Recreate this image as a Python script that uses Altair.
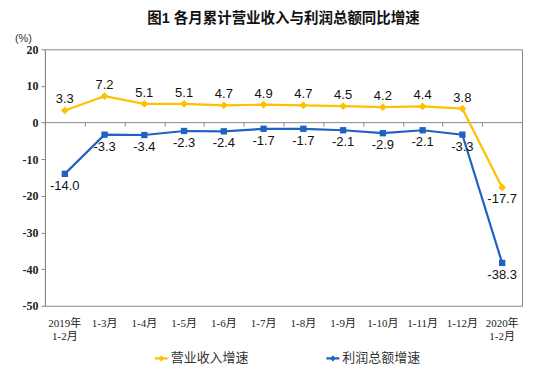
import altair as alt
import pandas as pd

categories = ["2019年\n1-2月", "1-3月", "1-4月", "1-5月", "1-6月", "1-7月", "1-8月",
              "1-9月", "1-10月", "1-11月", "1-12月", "2020年\n1-2月"]
revenue = [3.3, 7.2, 5.1, 5.1, 4.7, 4.9, 4.7, 4.5, 4.2, 4.4, 3.8, -17.7]
profit = [-14.0, -3.3, -3.4, -2.3, -2.4, -1.7, -1.7, -2.1, -2.9, -2.1, -3.3, -38.3]
series_names = ["营业收入增速", "利润总额增速"]
colors = ["#FFC000", "#1F62C2"]

rows = []
for i, c in enumerate(categories):
    rows.append({"cat": c, "series": series_names[0], "value": revenue[i], "order": i})
    rows.append({"cat": c, "series": series_names[1], "value": profit[i], "order": i})
df = pd.DataFrame(rows)

serif = "Liberation Serif, Noto Sans CJK SC"
sans = "Liberation Sans, Noto Sans CJK SC"

xscale = alt.Scale(type="band", domain=categories, paddingInner=0, paddingOuter=0)
yscale = alt.Scale(domain=[-50, 20])
cscale = alt.Scale(domain=series_names, range=colors)

x_lab = alt.X("cat:N", scale=xscale, sort=categories,
              axis=alt.Axis(title=None, labelAngle=0, domain=False, ticks=False, orient="bottom",
                            labelExpr="split(datum.label, '\\n')",
                            labelFont=serif, labelFontSize=11, labelColor="#222",
                            labelPadding=12, labelLineHeight=13))
x_none = alt.X("cat:N", scale=xscale, sort=categories, axis=None)
y_enc = alt.Y("value:Q", scale=yscale,
              axis=alt.Axis(values=[20, 10, 0, -10, -20, -30, -40, -50], grid=False,
                            labelOverlap=False,
                            labelExpr="datum.value < 0 ? '-' + abs(datum.value) : '' + datum.value",
                            title="(%)", titleAngle=0, titleFont=sans, titleFontSize=11,
                            titleFontWeight="normal", titleColor="#333",
                            titleX=-22, titleY=-6, titleAlign="center", titleBaseline="bottom",
                            labelFont=serif, labelFontSize=12, labelFontWeight="bold",
                            labelColor="#222", tickColor="#888", tickSize=4,
                            domainColor="#888", labelPadding=3))

txt_expr = "(datum.value < 0 ? '-' : '') + format(abs(datum.value), '.1f')"

base = alt.Chart(df)

leg = alt.Legend(title=None, orient="none", direction="horizontal",
                 legendX=110, legendY=303, columnPadding=72,
                 labelFont=sans, labelFontSize=13, labelColor="#333",
                 symbolType="M-1.3,0H1.3M-0.3,0L0,-0.3L0.3,0L0,0.3Z",
                 symbolStrokeWidth=2.2, symbolSize=100, labelOffset=3)

lines = base.mark_line(strokeWidth=2.2).encode(
    x=x_lab, y=y_enc,
    color=alt.Color("series:N", scale=cscale, legend=leg),
    detail="series:N",
)

pts_rev = base.transform_filter(alt.datum.series == series_names[0]).mark_point(
    shape="diamond", filled=True, size=60, opacity=1).encode(
    x=x_none, y=y_enc,
    color=alt.Color("series:N", scale=cscale),
)
pts_pro = base.transform_filter(alt.datum.series == series_names[1]).mark_point(
    shape="square", filled=True, size=40, opacity=1).encode(
    x=x_none, y=y_enc,
    color=alt.Color("series:N", scale=cscale),
)

lab_rev_pos = base.transform_filter(alt.datum.series == series_names[0]).transform_filter(
    alt.datum.value > 0).transform_calculate(txt=txt_expr).mark_text(
    font=sans, fontSize=13, color="#111", baseline="bottom", dy=-4).encode(
    x=x_none, y=y_enc, text="txt:N",
)
lab_rev_neg = base.transform_filter(alt.datum.series == series_names[0]).transform_filter(
    alt.datum.value < 0).transform_calculate(txt=txt_expr).mark_text(
    font=sans, fontSize=13, color="#111", baseline="top", dy=6).encode(
    x=x_none, y=y_enc, text="txt:N",
)
lab_pro = base.transform_filter(alt.datum.series == series_names[1]).transform_calculate(
    txt=txt_expr).mark_text(
    font=sans, fontSize=13, color="#111", baseline="top", dy=6).encode(
    x=x_none, y=y_enc, text="txt:N",
)

zero_df = pd.DataFrame({"cat": categories, "value": [0] * len(categories)})
zero_axis = alt.Chart(zero_df).mark_point(opacity=0).encode(
    x=alt.X("cat:N", scale=xscale, sort=categories,
            axis=alt.Axis(title=None, labels=False, tickBand="extent", tickSize=4,
                          tickColor="#888", domainColor="#888", offset=-184,
                          orient="bottom")),
    y=y_enc,
)

chart = alt.layer(
    zero_axis, lines, pts_rev, pts_pro, lab_rev_pos, lab_rev_neg, lab_pro
).resolve_axis(x="independent").properties(
    width=478, height=257,
    padding={"left": 6, "top": 2, "right": 8, "bottom": 4},
    title=alt.Title("图1  各月累计营业收入与利润总额同比增速", font=sans, fontSize=14.5,
                    fontWeight="bold", color="#111", anchor="middle", offset=6),
).configure_view(stroke="#888", strokeWidth=1)

chart.save("out.html", embed_options={"renderer": "svg", "actions": False})
